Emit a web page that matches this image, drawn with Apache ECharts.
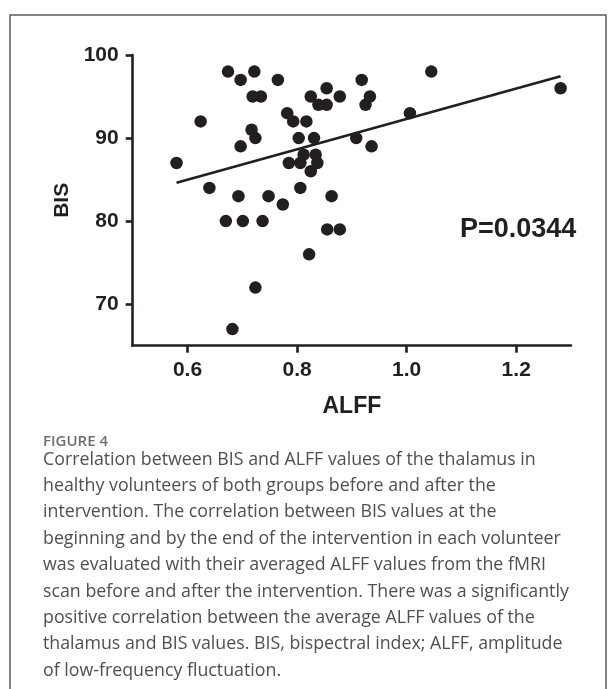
<!DOCTYPE html>
<html>
<head>
<meta charset="utf-8">
<script src="https://cdn.jsdelivr.net/npm/echarts@6/dist/echarts.min.js"></script>
<style>
  html, body { margin: 0; padding: 0; background: #ffffff; }
  #chart { width: 616px; height: 689px; }
</style>
</head>
<body>
<div id="chart"></div>
<script>
// ALFF (x) values of each volunteer
const alffValues = [
  0.580, 0.624, 0.640, 0.670, 0.674, 0.682, 0.693, 0.697, 0.697, 0.701,
  0.717, 0.719, 0.722, 0.724, 0.724, 0.734, 0.737, 0.748, 0.765, 0.774,
  0.782, 0.785, 0.793, 0.803, 0.806, 0.806, 0.812, 0.817, 0.822, 0.825,
  0.825, 0.831, 0.834, 0.837, 0.839, 0.854, 0.854, 0.855, 0.863, 0.878,
  0.878, 0.908, 0.918, 0.925, 0.933, 0.936, 1.006, 1.045, 1.281
];
// BIS (y) values of each volunteer
const bisValues = [
  87, 92, 84, 80, 98, 67, 83, 97, 89, 80,
  91, 95, 98, 90, 72, 95, 80, 83, 97, 82,
  93, 87, 92, 90, 87, 84, 88, 92, 76, 95,
  86, 90, 88, 87, 94, 96, 94, 79, 83, 95,
  79, 90, 97, 94, 95, 89, 93, 98, 96
];
const xTickValues = [0.6, 0.8, 1.0, 1.2];
const yTickValues = [70, 80, 90, 100];
const pValueText = 'P=0.0344';
const xAxisTitle = 'ALFF';
const yAxisTitle = 'BIS';
const figureLabel = 'FIGURE 4';
const captionLines = [
  'Correlation between BIS and ALFF values of the thalamus in',
  'healthy volunteers of both groups before and after the',
  'intervention. The correlation between BIS values at the',
  'beginning and by the end of the intervention in each volunteer',
  'was evaluated with their averaged ALFF values from the fMRI',
  'scan before and after the intervention. There was a significantly',
  'positive correlation between the average ALFF values of the',
  'thalamus and BIS values. BIS, bispectral index; ALFF, amplitude',
  'of low-frequency fluctuation.'
];

// build points
const points = alffValues.map((x, i) => [x, bisValues[i]]);

// least squares fit
const n = alffValues.length;
const mx = alffValues.reduce((a, b) => a + b, 0) / n;
const my = bisValues.reduce((a, b) => a + b, 0) / n;
let sxy = 0, sxx = 0;
for (let i = 0; i < n; i++) {
  sxy += (alffValues[i] - mx) * (bisValues[i] - my);
  sxx += (alffValues[i] - mx) * (alffValues[i] - mx);
}
const slope = sxy / sxx;
const intercept = my - slope * mx;
const xMin = Math.min(...alffValues);
const xMax = Math.max(...alffValues);
const fitLine = [[xMin, intercept + slope * xMin], [xMax, intercept + slope * xMax]];

const ink = '#231f20';
const chartFont = '"Liberation Sans", Arial, sans-serif';
const captionFont = '"Open Sans", "Noto Sans", sans-serif';

const chart = echarts.init(document.getElementById('chart'), null, { renderer: 'canvas' });

const graphics = [
  {
    type: 'rect', silent: true, z: 0,
    shape: { x: 10, y: 15, width: 596, height: 720 },
    style: { fill: 'none', stroke: '#5c5c5c', lineWidth: 1.5 }
  },
  {
    type: 'text', left: 460, top: 216, z: 10,
    style: { text: pValueText, fontFamily: chartFont, fontWeight: 'bold', fontSize: 27, fill: ink }
  },
  {
    type: 'text', left: 43, top: 434, z: 10,
    style: { text: figureLabel, fontFamily: captionFont, fontWeight: 600, fontSize: 15, fill: '#6e6e6e' }
  }
];
captionLines.forEach((line, i) => {
  graphics.push({
    type: 'text', left: 43, top: 450.5 + i * 26.4, z: 10,
    style: { text: line, fontFamily: captionFont, fontSize: 17.8, fill: '#4f4f4f' }
  });
});

chart.setOption({
  animation: false,
  backgroundColor: '#ffffff',
  grid: { left: 132.7, right: 45, top: 55, bottom: 343.3, containLabel: false },
  xAxis: {
    type: 'value', min: 0.5, max: 1.3,
    name: xAxisTitle, nameLocation: 'middle', nameGap: 49,
    nameTextStyle: { fontFamily: chartFont, fontWeight: 'bold', fontSize: 23, color: ink },
    axisLine: { show: true, onZero: false, lineStyle: { color: ink, width: 2.6 } },
    axisTick: { show: true, length: 7, customValues: xTickValues, lineStyle: { color: ink, width: 2.6 } },
    axisLabel: { show: true, margin: 14, customValues: xTickValues,
      formatter: v => Number(v).toFixed(1),
      fontFamily: chartFont, fontWeight: 'bold', fontSize: 21, color: ink },
    splitLine: { show: false }
  },
  yAxis: {
    type: 'value', min: 65, max: 100,
    name: yAxisTitle, nameLocation: 'middle', nameGap: 57, nameRotate: 90,
    nameTextStyle: { fontFamily: chartFont, fontWeight: 'bold', fontSize: 21, color: ink },
    axisLine: { show: true, onZero: false, lineStyle: { color: ink, width: 2.6 } },
    axisTick: { show: true, length: 7, customValues: yTickValues, lineStyle: { color: ink, width: 2.6 } },
    axisLabel: { show: true, margin: 14, customValues: yTickValues,
      fontFamily: chartFont, fontWeight: 'bold', fontSize: 21, color: ink },
    splitLine: { show: false }
  },
  series: [
    {
      type: 'line', data: fitLine, symbol: 'none', silent: true, z: 2,
      lineStyle: { color: ink, width: 2.6 }
    },
    {
      type: 'scatter', data: points, symbol: 'circle', symbolSize: 12.5, z: 3,
      itemStyle: { color: ink, opacity: 1 }
    }
  ],
  graphic: graphics
});
</script>
</body>
</html>
